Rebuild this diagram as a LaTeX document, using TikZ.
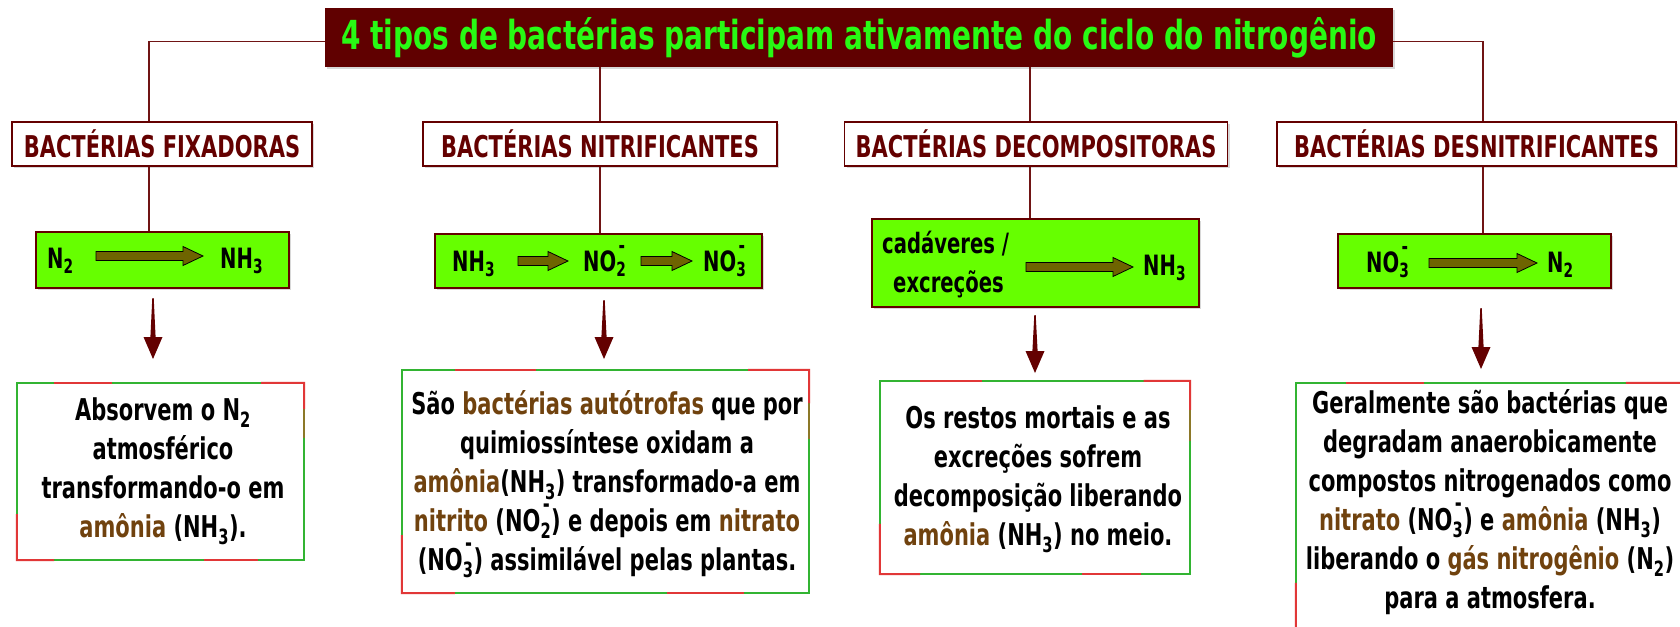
\documentclass[tikz,border=0pt]{standalone}
\usepackage{fontspec}
\setmainfont[FakeStretch=0.7]{DejaVu Sans}
\usetikzlibrary{calc,shadows}
\definecolor{dred}{RGB}{100,0,0}
\definecolor{titlebg}{RGB}{96,0,0}
\definecolor{tgreen}{RGB}{40,250,20}
\definecolor{lime}{RGB}{102,255,0}
\definecolor{olv}{RGB}{110,100,0}
\definecolor{brn}{RGB}{112,66,14}
\definecolor{bgreen}{RGB}{50,180,50}
\definecolor{bred}{RGB}{225,55,55}
\definecolor{bolive}{RGB}{140,120,40}
\definecolor{lnred}{RGB}{112,20,20}
\newcommand\hl[1]{\textcolor{brn}{#1}}
\newcommand\ion[2]{#1\rlap{\hspace{0.08em}\raisebox{0.64em}{\scalebox{0.8}{-}}}\textsubscript{#2}}
\newcommand\blk[2]{\draw[fill=olv,draw=black,line width=0.8pt,line join=miter]
  ($(#1)+(0,4.5)$) -- ($(#2)+(-20,4.5)$) -- ($(#2)+(-20,9.5)$) -- (#2) --
  ($(#2)+(-20,-9.5)$) -- ($(#2)+(-20,-4.5)$) -- ($(#1)+(0,-4.5)$) -- cycle;}
\newcommand\darr[2]{\fill[dred] ($(#1)+(-0.7,0)$) -- ($(#1)+(0.7,0)$) --
  ($(#2)+(2.6,-22)$) -- ($(#2)+(9.5,-22)$) -- (#2) -- ($(#2)+(-9.5,-22)$) --
  ($(#2)+(-2.6,-22)$) -- cycle;}
\newcommand\gborder[1]{%
  \draw[bgreen,line width=2pt] (#1.north west) rectangle (#1.south east);
  \draw[bred,line width=2pt] ($(#1.north west)!0.13!(#1.north east)$) -- ($(#1.north west)!0.33!(#1.north east)$);
  \draw[bred,line width=2pt] ($(#1.north west)!0.85!(#1.north east)$) -- (#1.north east) -- ($(#1.north east)!0.15!(#1.south east)$);
  \draw[bolive,line width=2pt] ($(#1.north east)!0.15!(#1.south east)$) -- ($(#1.north east)!0.31!(#1.south east)$);
  \draw[bred,line width=2pt] ($(#1.south east)!0.16!(#1.south west)$) -- ($(#1.south east)!0.35!(#1.south west)$);
  \draw[bred,line width=2pt] ($(#1.south east)!0.87!(#1.south west)$) -- (#1.south west) -- ($(#1.south west)!0.26!(#1.north west)$);
}
\begin{document}
\begin{tikzpicture}[x=1pt,y=-1pt,
  conn/.style={draw=lnred,line width=1.8pt},
  titlebox/.style={fill=titlebg,text=tgreen,font=\fontsize{40}{44}\selectfont\bfseries,minimum width=1068pt,minimum height=59pt,inner sep=0pt,drop shadow={shadow xshift=2pt,shadow yshift=-2pt,opacity=0.3,fill=black!50}},
  hdr/.style={draw=dred,line width=1.8pt,fill=white,text=dred,font=\fontsize{30}{34}\selectfont\bfseries,minimum height=44pt,inner sep=0pt,drop shadow={shadow xshift=2pt,shadow yshift=-2pt,opacity=0.3,fill=black!50}},
  fbox/.style={draw=dred,line width=1.6pt,fill=lime,inner sep=0pt,drop shadow={shadow xshift=2pt,shadow yshift=-2pt,opacity=0.3,fill=black!50}},
  ftext/.style={font=\fontsize{28}{34}\selectfont\bfseries,anchor=base west,inner sep=0pt},
  gtext/.style={font=\fontsize{30}{39}\selectfont\bfseries,align=center,inner sep=0pt},
  gbox/.style={inner sep=0pt}]
\useasboundingbox[fill=white] (0,0) rectangle (1680,626);

% title
\node[titlebox] (t) at (859,37.5) {4 tipos de bactérias participam ativamente do ciclo do nitrogênio};

% headers
\node[hdr,minimum width=300pt] (h1) at (162,144) {BACTÉRIAS FIXADORAS};
\node[hdr,minimum width=354pt] (h2) at (600,144) {BACTÉRIAS NITRIFICANTES};
\node[hdr,minimum width=383pt] (h3) at (1036,144) {BACTÉRIAS DECOMPOSITORAS};
\node[hdr,minimum width=399pt] (h4) at (1476.5,144) {BACTÉRIAS DESNITRIFICANTES};

\coordinate (c1) at (149,0);
\coordinate (c2) at (600,0);
\coordinate (c3) at (1030,0);
\coordinate (c4) at (1483,0);

% formula boxes
\node[fbox,minimum width=253pt,minimum height=56pt] (f1) at (162.5,260) {};
\node[fbox,minimum width=327pt,minimum height=54pt] (f2) at (598.5,261) {};
\node[fbox,minimum width=327pt,minimum height=88pt] (f3) at (1035.5,263) {};
\node[fbox,minimum width=273pt,minimum height=54pt] (f4) at (1474.5,261) {};

% connectors
\draw[conn] ($(t.west)+(0,4)$) -| (h1.north -| c1);
\draw[conn] (t.south -| c2) -- (h2.north -| c2);
\draw[conn] (t.south -| c3) -- (h3.north -| c3);
\draw[conn] ($(t.east)+(0,4)$) -| (h4.north -| c4);
\draw[conn] (h1.south -| c1) -- (f1.north -| c1);
\draw[conn] (h2.south -| c2) -- (f2.north -| c2);
\draw[conn] (h3.south -| c3) -- (f3.north -| c3);
\draw[conn] (h4.south -| c4) -- (f4.north -| c4);

% formula texts
\node[ftext] (n11) at (47,268) {N\textsubscript{2}};
\node[ftext] (n12) at (220,268) {NH\textsubscript{3}};
\coordinate (b1s) at (96,256); \coordinate (b1e) at (203,256);
\blk{b1s}{b1e}

\node[ftext] (n21) at (452,271) {NH\textsubscript{3}};
\node[ftext] (n22) at (583,271) {\ion{NO}{2}};
\node[ftext] (n23) at (703,271) {\ion{NO}{3}};
\coordinate (b2s) at (518,261); \coordinate (b2e) at (568,261);
\coordinate (b3s) at (641,261); \coordinate (b3e) at (692,261);
\blk{b2s}{b2e}
\blk{b3s}{b3e}

\node[ftext] (n31) at (882,253) {cadáveres /};
\node[ftext] (n32) at (893,292) {excreções};
\node[ftext] (n33) at (1143,275) {NH\textsubscript{3}};
\coordinate (b4s) at (1026,267); \coordinate (b4e) at (1133,267);
\blk{b4s}{b4e}

\node[ftext] (n41) at (1366,272) {\ion{NO}{3}};
\node[ftext] (n42) at (1547,272) {N\textsubscript{2}};
\coordinate (b5s) at (1429,263); \coordinate (b5e) at (1537,263);
\blk{b5s}{b5e}

% down arrows
\coordinate (d1s) at (153,298); \coordinate (d1e) at (153,359);
\coordinate (d2s) at (604,300); \coordinate (d2e) at (604,359);
\coordinate (d3s) at (1035,315); \coordinate (d3e) at (1035,373);
\coordinate (d4s) at (1481,308); \coordinate (d4e) at (1481,369);
\darr{d1s}{d1e}
\darr{d2s}{d2e}
\darr{d3s}{d3e}
\darr{d4s}{d4e}

% text boxes
\node[gbox,minimum width=287pt,minimum height=177pt] (g1) at (160.5,471.5) {};
\node[gtext] (g1t) at (163,471.5) {Absorvem o N\textsubscript{2}\\atmosférico\\transformando-o em\\\hl{amônia} (NH\textsubscript{3}).};
\gborder{g1}

\node[gbox,minimum width=407pt,minimum height=223pt] (g2) at (605.5,481.5) {};
\node[gtext] (g2t) at (607,484) {São \hl{bactérias autótrofas} que por\\quimiossíntese oxidam a\\\hl{amônia}(NH\textsubscript{3}) transformado-a em\\\hl{nitrito} (\ion{NO}{2}) e depois em \hl{nitrato}\\(\ion{NO}{3}) assimilável pelas plantas.};
\gborder{g2}

\node[gbox,minimum width=310pt,minimum height=193pt] (g3) at (1035,477.5) {};
\node[gtext] (g3t) at (1038,479) {Os restos mortais e as\\excreções sofrem\\decomposição liberando\\\hl{amônia} (NH\textsubscript{3}) no meio.};
\gborder{g3}

\node[gbox,minimum width=388pt,minimum height=270pt] (g4) at (1490,518) {};
\node[gtext,anchor=north] (g4t) at (1490,389) {Geralmente são bactérias que\\degradam anaerobicamente\\compostos nitrogenados como\\\hl{nitrato} (\ion{NO}{3}) e \hl{amônia} (NH\textsubscript{3})\\liberando o \hl{gás nitrogênio} (N\textsubscript{2})\\para a atmosfera.};
\gborder{g4}
\end{tikzpicture}
\end{document}
